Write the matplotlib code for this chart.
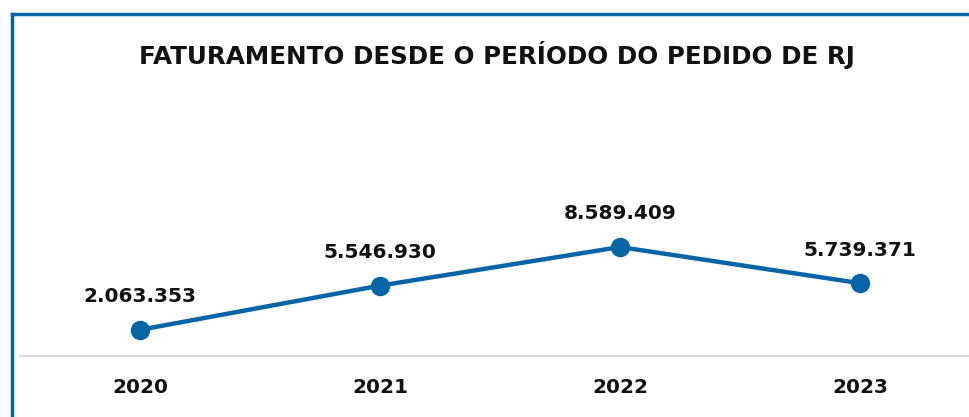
import matplotlib.pyplot as plt

anos = ['2020', '2021', '2022', '2023']
faturamento = [2063353, 5546930, 8589409, 5739371]
rotulos = ['2.063.353', '5.546.930', '8.589.409', '5.739.371']

azul = '#0765A6'

fig = plt.figure(figsize=(9.7, 4.17), dpi=100)

# moldura azul (topo e esquerda)
fig.add_artist(plt.Line2D([12 / 970, 1], [1 - 14 / 417, 1 - 14 / 417], color=azul, lw=2.5))
fig.add_artist(plt.Line2D([12 / 970, 12 / 970], [0, 1 - 14 / 417], color=azul, lw=2.5))

fig.text(497 / 970, 1 - 55 / 417, 'FATURAMENTO DESDE O PERÍODO DO PEDIDO DE RJ',
         ha='center', va='center', fontsize=17.7, fontweight='bold', color='#111111')

ax = fig.add_axes([20 / 970, 1 - 356 / 417, 950 / 970, 255 / 417])
x = list(range(len(anos)))
ax.plot(x, faturamento, color=azul, lw=3.2, marker='o', markersize=13, solid_capstyle='round')
for xi, v, r in zip(x, faturamento, rotulos):
    ax.annotate(r, (xi, v), xytext=(0, 17), textcoords='offset points',
                ha='center', va='bottom', fontsize=14.5, fontweight='bold', color='#111111')

ax.set_xlim(-0.5, 3.458)
ax.set_ylim(0, 20.1e6)
ax.set_yticks([])
ax.set_xticks(x)
ax.set_xticklabels(anos, fontsize=14.5, fontweight='bold', color='#111111')
ax.tick_params(axis='x', length=0, pad=16)
for s in ['top', 'right', 'left']:
    ax.spines[s].set_visible(False)
ax.spines['bottom'].set_color('#D9D9D9')
ax.spines['bottom'].set_linewidth(1.5)
ax.patch.set_alpha(0)

fig.savefig('out.png', dpi=100)
